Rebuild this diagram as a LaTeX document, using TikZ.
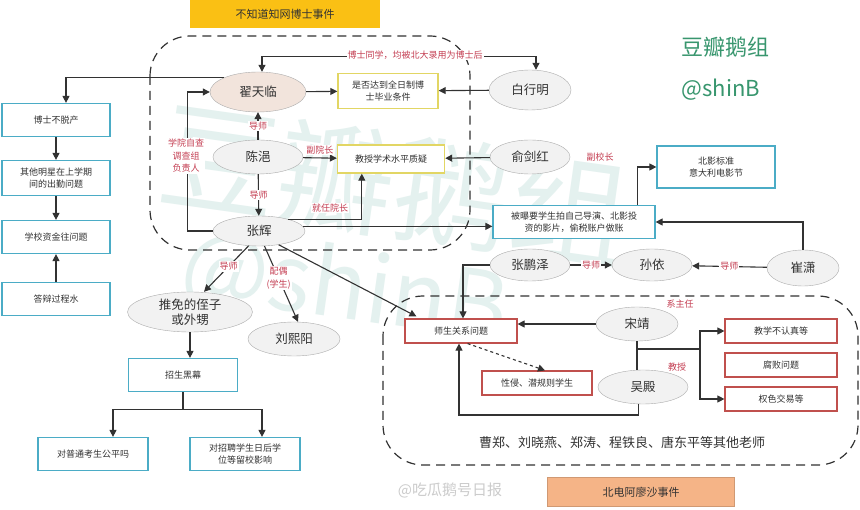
\documentclass[tikz,border=0pt]{standalone}
\usepackage{fontspec}
\setmainfont{Noto Sans CJK SC}
\usetikzlibrary{arrows.meta,shapes.geometric,calc}
\definecolor{labred}{RGB}{196,62,82}
\definecolor{teal1}{RGB}{75,172,198}
\definecolor{yel1}{RGB}{226,214,100}
\definecolor{redb}{RGB}{192,80,77}
\definecolor{ovalfill}{RGB}{242,242,242}
\definecolor{zhaifill}{RGB}{242,228,220}
\definecolor{gold}{RGB}{250,192,20}
\definecolor{peach}{RGB}{245,180,135}
\definecolor{wm}{RGB}{228,241,239}
\definecolor{grn}{RGB}{56,150,110}
\definecolor{ink}{RGB}{50,50,50}
\tikzset{
  arr/.style={draw=ink,line width=1.1pt,-{Triangle[length=7pt,width=7pt]}},
  ln/.style={draw=ink,line width=1.1pt},
  oval/.style={ellipse,draw=gray!65,fill=ovalfill,minimum width=#1,minimum height=34pt,inner sep=0pt,text=ink,font=\fontsize{12.5}{14}\selectfont},
  tbox/.style={draw=teal1,line width=1.2pt,fill=white,minimum width=#1,minimum height=33pt,align=center,text=ink,font=\fontsize{9}{12}\selectfont,inner sep=2pt},
  ybox/.style={draw=yel1,line width=1.4pt,fill=white,minimum width=#1,minimum height=30pt,align=center,text=ink,font=\fontsize{9}{12}\selectfont,inner sep=2pt},
  rbox/.style={draw=redb,line width=1.2pt,fill=white,minimum width=#1,minimum height=24pt,align=center,text=ink,font=\fontsize{9}{11}\selectfont,inner sep=2pt},
  lab/.style={text=labred,fill=white,inner sep=1pt,align=center,font=\fontsize{9}{12.5}\selectfont},
  region/.style={draw=ink,line width=1.2pt,dash pattern=on 9pt off 6pt,rounded corners=40pt}
}
\begin{document}
\begin{tikzpicture}[x=1pt,y=-1pt]
\useasboundingbox (0,0) rectangle (860,510);
\fill[white] (0,0) rectangle (860,510);
% watermark
\node[text=wm,rotate=-8,font=\fontsize{118}{120}\selectfont] (wm1) at (395,185) {豆瓣鹅组};
\node[text=wm,rotate=-8,font=\fontsize{92}{94}\selectfont] (wm2) at (345,290) {@shinB};
% title boxes
\node[fill=gold,minimum width=190pt,minimum height=29pt,text=ink,font=\fontsize{11}{13}\selectfont] (t1) at (285,14) {不知道知网博士事件};
\node[fill=peach,draw=peach!85!black,minimum width=187pt,minimum height=29pt,text=ink,font=\fontsize{11}{13}\selectfont] (t2) at (641,492) {北电阿廖沙事件};
\node[text=grn,font=\fontsize{22}{24}\selectfont,anchor=west] (g1) at (678,47) {豆瓣鹅组};
\node[text=grn,font=\fontsize{22}{24}\selectfont,anchor=west] (g2) at (678,90) {@shinB};
\node[text=gray!40,font=\fontsize{15}{17}\selectfont] (wb) at (450,490) {@吃瓜鹅号日报};
% regions
\draw[region] (150,36) rectangle (470,250);
\draw[region] (383,296) rectangle (858,465);
% top group
\node[oval=96pt,fill=zhaifill,minimum height=40pt] (zhai) at (258,92) {翟天临};
\node[ybox=100pt,minimum height=35pt] (q1) at (388,91) {是否达到全日制博\\士毕业条件};
\node[oval=82pt,minimum height=40pt] (bai) at (530,90) {白行明};
\node[oval=90pt] (chen) at (258,157) {陈浥};
\node[ybox=107pt,minimum height=28pt] (q2) at (391,159) {教授学术水平质疑};
\node[oval=80pt] (yu) at (530,157) {俞剑红};
\node[lab] (lyu) at (600,157) {副校长};
\node[oval=92pt,minimum height=30pt] (zhang) at (259,231) {张辉};
% left column
\node[tbox=108pt] (b1) at (56,120) {博士不脱产};
\node[tbox=108pt,minimum height=35pt] (b2) at (56,178) {其他明星在上学期\\间的出勤问题};
\node[tbox=108pt] (b3) at (56,237) {学校资金往问题};
\node[tbox=108pt] (b4) at (56,299) {答辩过程水};
% right middle
\node[tbox=162pt] (p) at (574,222) {被曝要学生拍自己导演、北影投\\资的影片，偷税账户做账};
\node[tbox=118pt,minimum height=42pt] (bx) at (716,167) {北影标准\\意大利电影节};
\node[oval=80pt,minimum height=32pt] (zpz) at (530,265) {张鹏泽};
\node[oval=80pt,minimum height=32pt] (sun) at (652,265) {孙依};
\node[oval=72pt,minimum height=36pt] (cui) at (803,268) {崔潇};
% bottom group
\node[rbox=112pt] (sg) at (461,331) {师生关系问题};
\node[oval=82pt] (song) at (637,324) {宋靖};
\node[rbox=110pt] (xq) at (537,383) {性侵、潜规则学生};
\node[oval=90pt] (wu) at (643,387) {吴殿};
\node[rbox=112pt] (r1) at (781,331) {教学不认真等};
\node[rbox=112pt] (r2) at (781,365) {腐败问题};
\node[rbox=112pt] (r3) at (781,399) {权色交易等};
\node[lab] (lsong) at (680,304) {系主任};
\node[lab] (lwu) at (677,367) {教授};
\node[text=ink,font=\fontsize{13}{15}\selectfont] (others) at (622,443) {曹郑、刘晓燕、郑涛、程铁良、唐东平等其他老师};
% lower left
\node[oval=125pt,minimum height=40pt,font=\fontsize{12.5}{15}\selectfont,align=center] (tm) at (190,312) {推免的侄子\\或外甥};
\node[oval=92pt] (liu) at (294,339) {刘熙阳};
\node[tbox=109pt] (zs) at (183,375) {招生黑幕};
\node[tbox=110pt] (ba) at (93,454) {对普通考生公平吗};
\node[tbox=110pt] (bb) at (245,454) {对招聘学生日后学\\位等留校影响};
% ---- connectors top group
\draw[arr,{Triangle[length=7pt,width=7pt]}-{Triangle[length=7pt,width=7pt]}] ($(zhai.north)+(4,0)$) -- ++(0,-15) -| ($(bai.north)+(6,0)$);
\node[lab] (l1) at (415,55) {博士同学，均被北大录用为博士后};
\draw[arr] (zhai) -- (q1);
\draw[arr] (bai) -- (q1);
\draw[arr] (chen) -- node[lab]{导师} (zhai);
\draw[arr] (chen) -- node[lab,above=2pt]{副院长} (q2);
\draw[arr] (yu) -- (q2);
\draw[arr] (chen) -- node[lab]{导师} (zhang);
\draw[arr] (zhang.22) -| ($(q2.south west)+(25,0)$);
\node[lab] (l2) at (330,208) {就任院长};
\draw[arr] (zhang.west) -- ++(-25,0) |- (zhai.west);
\node[lab] (l3) at (186,156) {学院自查\\调查组\\负责人};
\draw[arr] (zhai.north west) -| ($(b1.north)+(10,0)$);
\draw[arr] (b1) -- (b2);
\draw[arr] (b2) -- (b3);
\draw[arr] (b4) -- (b3);
% right middle
\draw[arr] (zhang.6) -- (zhang.6 -| p.west);
\draw[arr] ($(p.north east)+(-18,0)$) |- (bx.west);
\draw[arr] (cui.north) |- (p.east);
\draw[arr] (zpz) -- node[lab]{导师} (sun);
\draw[arr] (cui) -- node[lab]{导师} (sun);
\draw[arr] (zpz.west) -| ($(sg.north)+(2,0)$);
\draw[arr] (zhang.-35) -- ($(sg.north west)+(12,-2)$);
% bottom group
\draw[arr] (song.west) -- (song.west -| sg.east);
\draw[arr,dashed] ($(sg.south east)+(-50,0)$) -- ($(xq.north)+(8,0)$);
\coordinate (wbt) at (459,415);
\draw[arr] (wu.255) |- (wbt) -- (wbt |- sg.south);
\coordinate (vx) at (700,349);
\draw[ln] (song.south) -- (song.south |- wu.north);
\draw[ln] (song.south |- vx) -- (vx);
\draw[arr] (vx) |- (r1.west);
\draw[arr] (vx) |- (r3.west);
% lower left
\draw[arr] (zhang.235) -- node[lab,pos=0.45]{导师} ($(tm.north)+(14,0)$);
\draw[arr] (zhang.290) -- node[lab,pos=0.42]{配偶\\(学生)} ($(liu.north)+(4,0)$);
\draw[arr] (tm.south) -- (tm.south |- zs.north);
\draw[arr] (zs.south) -- ++(0,17) -| ($(ba.north)+(20,0)$);
\draw[arr] (zs.south) -- ++(0,17) -| ($(bb.north)+(17,0)$);
\end{tikzpicture}
\end{document}
